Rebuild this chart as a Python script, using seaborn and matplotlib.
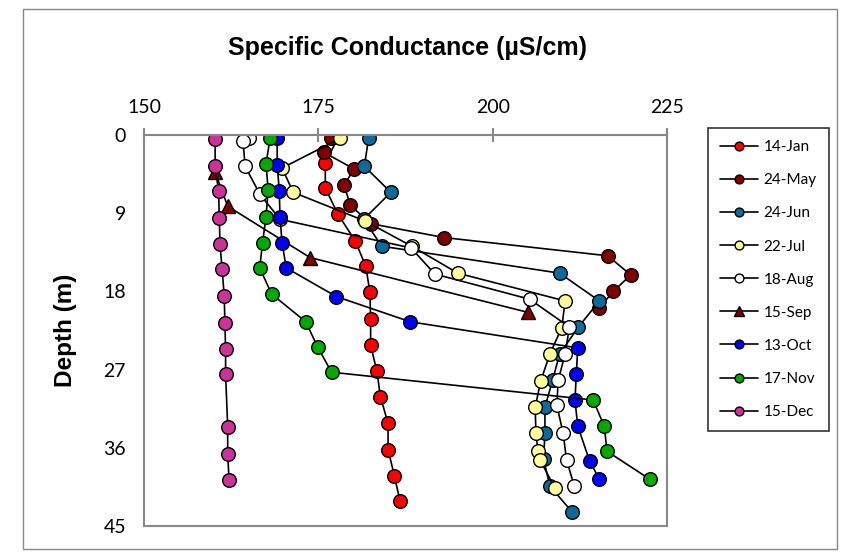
import matplotlib
matplotlib.use('Agg')
import matplotlib.pyplot as plt
import seaborn as sns
from matplotlib.patches import Rectangle

# data: specific conductance (uS/cm) vs depth (m)
jan_sc = [177.9, 176.0, 176.0, 177.8, 180.3, 181.8, 182.4, 182.5, 182.5, 183.4, 183.9, 185.0, 185.0, 185.9, 186.7]
jan_d = [0.2, 3.2, 6.1, 9.1, 12.2, 15.1, 18.1, 21.2, 24.2, 27.2, 30.1, 33.2, 36.2, 39.2, 42.1]

may_sc = [176.8, 175.8, 180.1, 178.7, 179.6, 182.5, 193.0, 216.5, 219.8, 217.3, 215.3]
may_d = [0.4, 2.0, 3.9, 5.8, 8.1, 10.2, 11.8, 13.9, 16.1, 18.0, 19.9]

jun_sc = [182.2, 181.6, 185.4, 181.5, 184.1, 209.6, 215.3, 212.3, 209.6, 208.6, 207.5, 207.5, 207.3, 208.2, 211.4]
jun_d = [0.4, 3.6, 6.6, 9.7, 12.8, 15.9, 19.1, 22.1, 25.2, 28.2, 31.3, 34.3, 37.3, 40.4, 43.4]

jul_sc = [178.1, 169.8, 171.4, 181.7, 188.4, 195.0, 210.4, 209.9, 208.2, 206.9, 206.1, 206.2, 206.5, 206.8, 208.9]
jul_d = [0.4, 3.8, 6.6, 9.9, 12.8, 15.9, 19.1, 22.2, 25.2, 28.3, 31.3, 34.3, 36.4, 37.4, 40.6]

aug_sc = [165.1, 164.2, 164.5, 166.6, 169.5, 188.3, 191.7, 205.3, 211.0, 210.4, 209.4, 209.2, 210.1, 210.6, 211.7]
aug_d = [0.4, 0.7, 3.6, 6.8, 9.7, 13.0, 16.0, 18.9, 22.1, 25.2, 28.2, 31.1, 34.3, 37.4, 40.4]

sep_sc = [160.2, 162.0, 173.8, 205.0]
sep_d = [4.3, 8.2, 14.1, 20.4]

oct_sc = [169.1, 169.1, 169.4, 169.5, 169.8, 170.4, 177.6, 188.2, 212.2, 212.0, 211.8, 212.2, 213.9, 215.3]
oct_d = [0.4, 3.4, 6.4, 9.4, 12.4, 15.3, 18.6, 21.5, 24.5, 27.5, 30.5, 33.5, 37.5, 39.6]

nov_sc = [168.1, 167.5, 167.8, 167.5, 167.0, 166.6, 168.3, 173.2, 174.9, 176.9, 214.4, 216.0, 216.4, 222.5]
nov_d = [0.3, 3.3, 6.3, 9.4, 12.4, 15.3, 18.3, 21.5, 24.4, 27.3, 30.5, 33.5, 36.4, 39.6]

dec_sc = [160.2, 160.2, 160.7, 160.8, 160.9, 161.2, 161.5, 161.6, 161.7, 161.7, 162.0, 162.0, 162.2]
dec_d = [0.5, 3.6, 6.5, 9.6, 12.6, 15.4, 18.5, 21.6, 24.6, 27.5, 33.6, 36.7, 39.7]

labels = ['14-Jan', '24-May', '24-Jun', '22-Jul', '18-Aug', '15-Sep', '13-Oct', '17-Nov', '15-Dec']
x_ticks = [150, 175, 200, 225]
y_ticks = [0, 9, 18, 27, 36, 45]

series = [
    (jan_sc, jan_d, 'o', '#FF0000'),
    (may_sc, may_d, 'o', '#800000'),
    (jun_sc, jun_d, 'o', '#0F6A9C'),
    (jul_sc, jul_d, 'o', '#FFFF99'),
    (aug_sc, aug_d, 'o', '#FFFFFF'),
    (sep_sc, sep_d, '^', '#800000'),
    (oct_sc, oct_d, 'o', '#0000FF'),
    (nov_sc, nov_d, 'o', '#00AA00'),
    (dec_sc, dec_d, 'o', '#CC3399'),
]

sns.set_style('white')
plt.rcParams['font.family'] = ['Lato', 'DejaVu Sans']
plt.rcParams['text.color'] = 'black'
plt.rcParams['xtick.labelcolor'] = 'black'
plt.rcParams['ytick.labelcolor'] = 'black'
plt.rcParams['axes.labelcolor'] = 'black'

fig = plt.figure(figsize=(8.43, 5.55), dpi=100)
ax = fig.add_axes([144 / 843, 1 - 526 / 555, (667 - 144) / 843, (526 - 135) / 555])

# outer chart border
fig.patches.append(Rectangle((23 / 843, 1 - 549 / 555), (837 - 23) / 843, (549 - 9) / 555,
                             transform=fig.transFigure, fill=False, edgecolor='#888888', lw=1))

handles = []
for (sc, d, mk, col), lab in zip(series, labels):
    sns.lineplot(x=sc, y=d, sort=False, estimator=None, ax=ax, color='black', lw=1.2,
                 marker=mk, markersize=9.8 if mk == 'o' else 10, markerfacecolor=col,
                 markeredgecolor='black', markeredgewidth=1.0, label=lab, legend=False)
    handles.append(ax.lines[-1])

ax.set_xlim(150, 225)
ax.set_ylim(45, 0)
ax.set_xticks(x_ticks)
ax.set_yticks(y_ticks)
ax.xaxis.tick_top()
ax.tick_params(axis='both', direction='inout', length=10, width=1.5, color='#888888',
               labelsize=14, labelcolor='black')
ax.tick_params(axis='x', pad=9)
ax.tick_params(axis='y', pad=8)
for s in ax.spines.values():
    s.set_color('#888888')
    s.set_linewidth(1.5)
ax.set_xlabel('')
ax.set_ylabel('Depth (m)', fontsize=17.5, fontweight='bold', family=['Liberation Sans', 'DejaVu Sans'],
              labelpad=19, color='black')

fig.text(407 / 843, 1 - 48 / 555, 'Specific Conductance (µS/cm)', ha='center', va='center',
         fontsize=18, fontweight='bold', family=['Liberation Sans', 'DejaVu Sans'], color='black')

leg = fig.legend(handles=handles, labels=labels, loc='upper left',
                 bbox_to_anchor=(708 / 843, 1 - 128 / 555), borderaxespad=0, fontsize=11,
                 markerscale=0.65, handlelength=2.45, labelspacing=1.25, borderpad=0.8,
                 handletextpad=0.4, fancybox=False, frameon=True)
leg.get_frame().set_edgecolor('black')
leg.get_frame().set_linewidth(1.2)

fig.savefig('out.png', dpi=100)
